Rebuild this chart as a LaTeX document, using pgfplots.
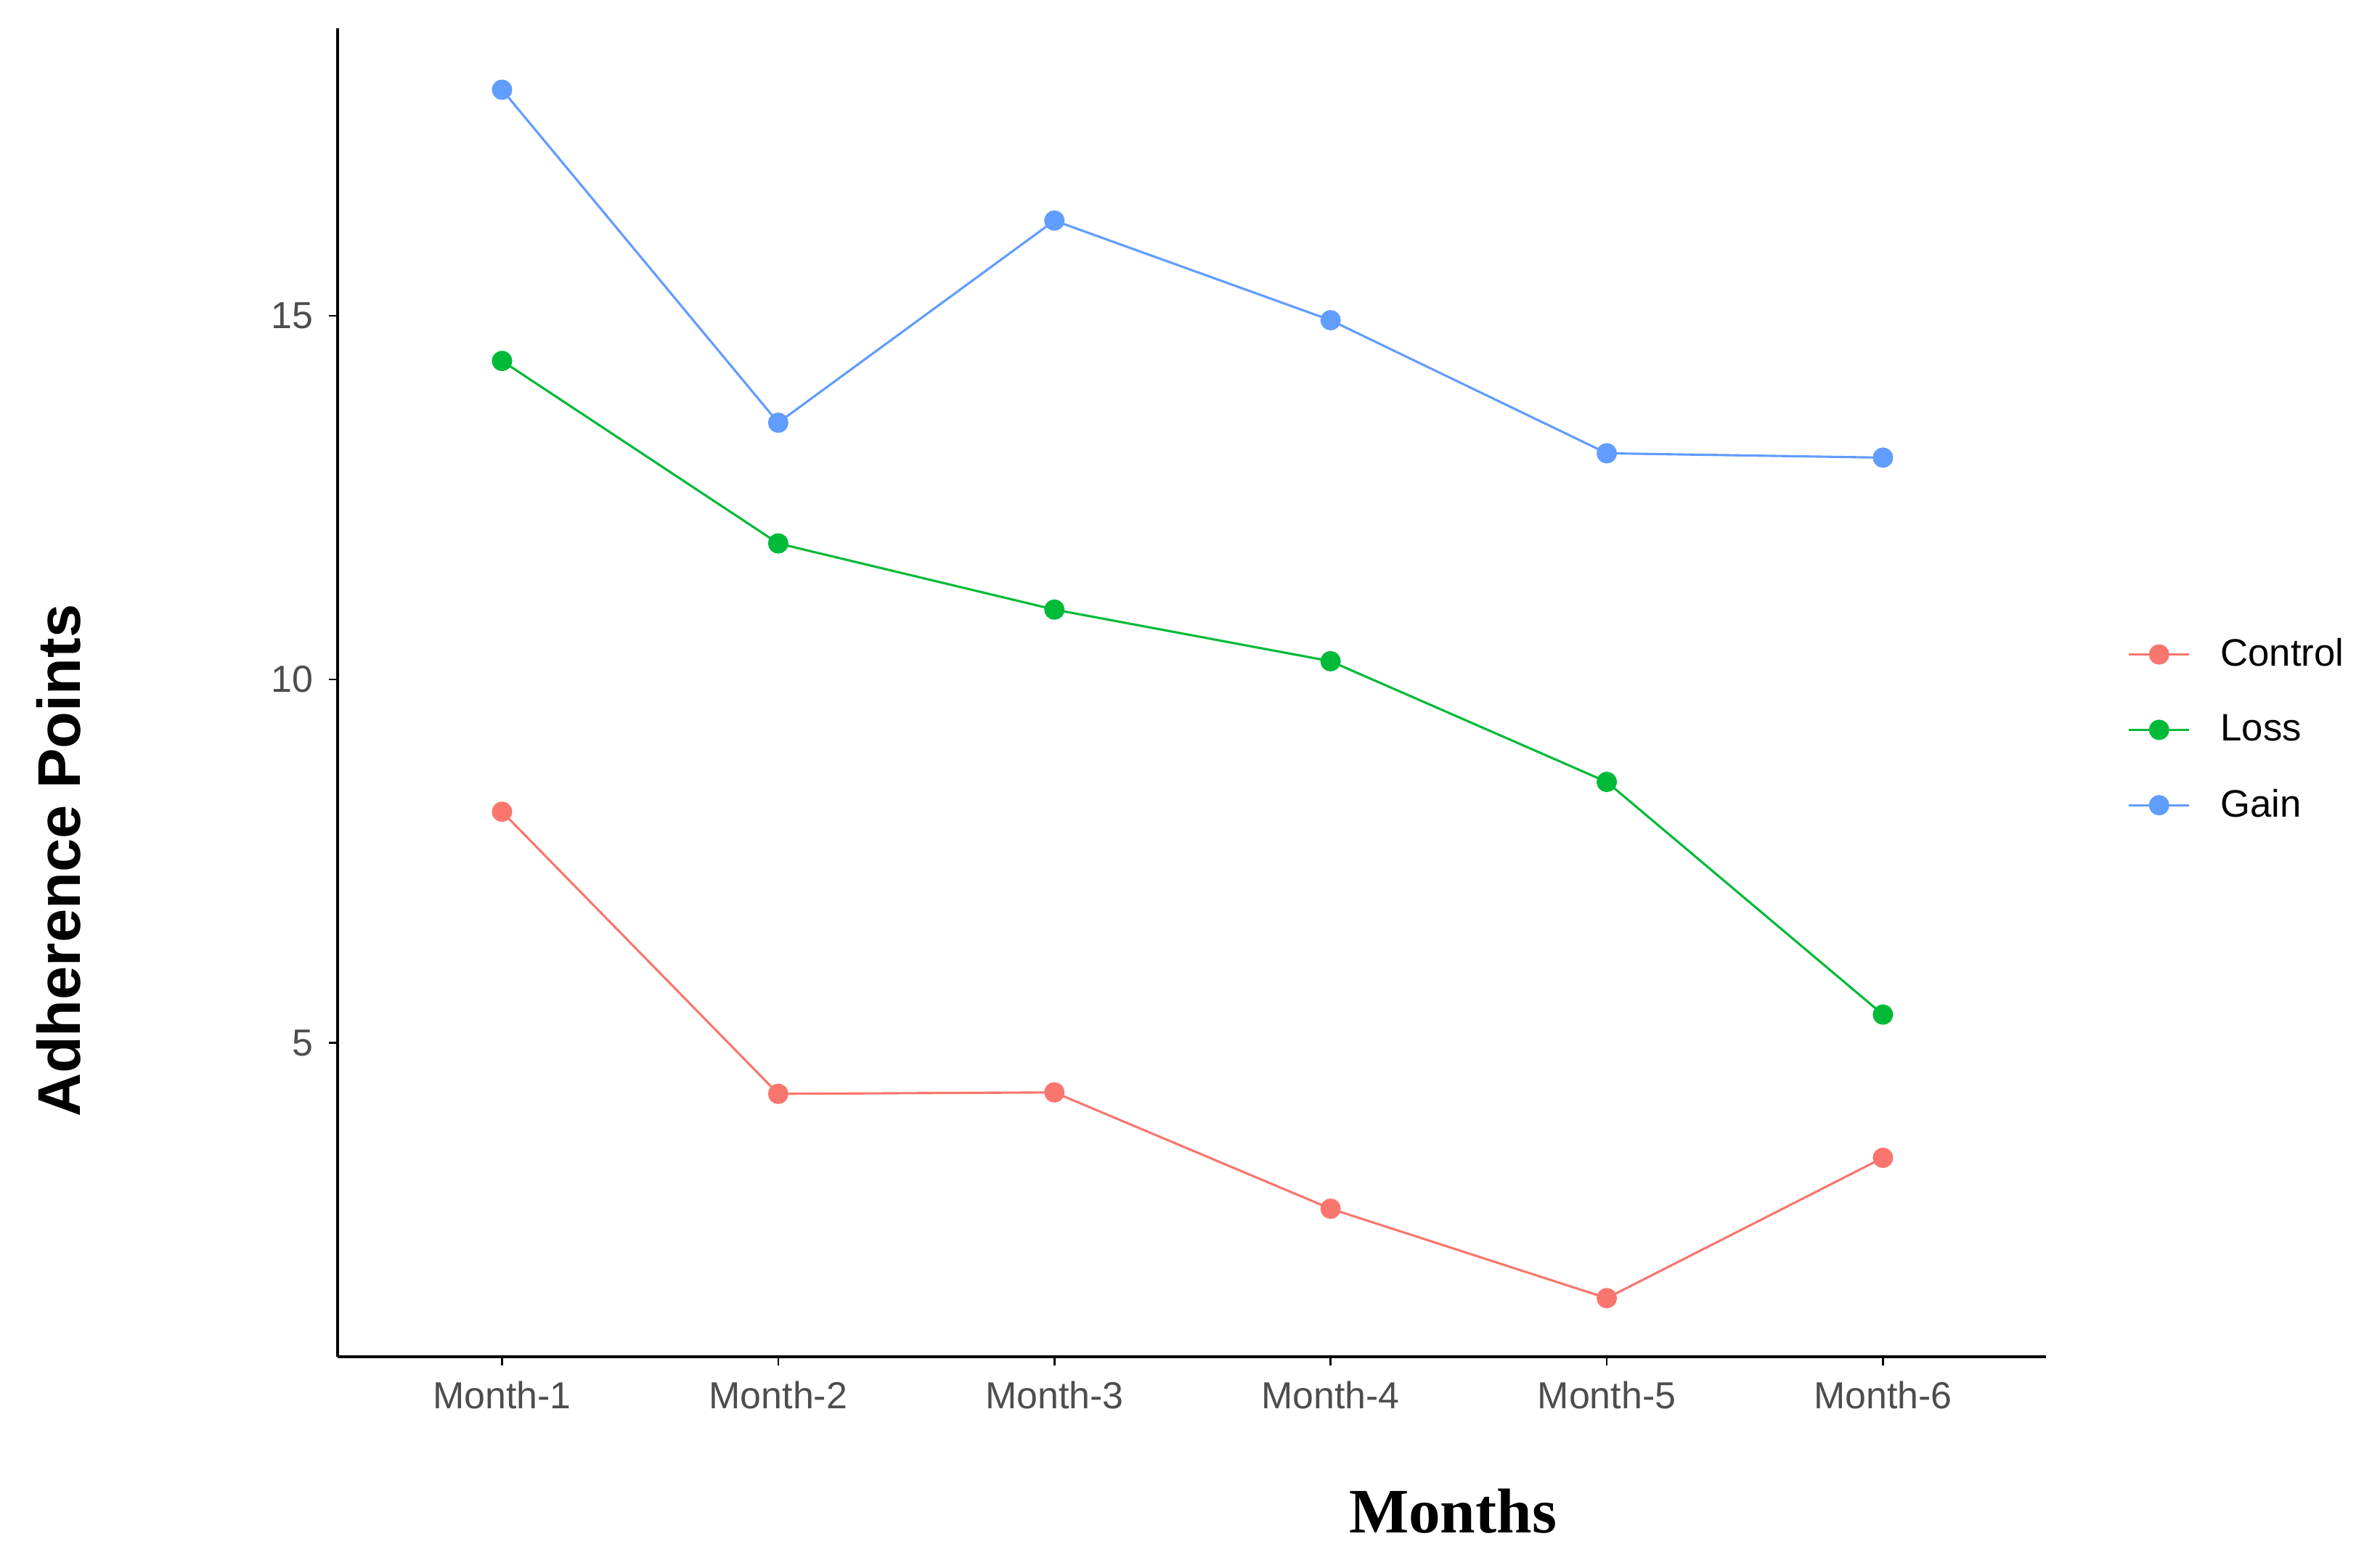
\documentclass[border=0pt]{standalone}
\usepackage{pgfplots}
\pgfplotsset{compat=1.18}
\usepackage{fontspec}
\setmainfont{Liberation Sans}
\newfontfamily\serifbold{Liberation Serif}
\definecolor{cctrl}{HTML}{F8766D}
\definecolor{closs}{HTML}{00BA38}
\definecolor{cgain}{HTML}{619CFF}
\definecolor{tickgrey}{HTML}{4D4D4D}
\begin{document}
\begin{tikzpicture}
\useasboundingbox (-112pt,-70pt) rectangle (672pt,450pt);
\begin{axis}[
  scale only axis,
  width=566.5pt, height=440.5pt,
  xmin=0.405, xmax=6.59,
  ymin=0.685, ymax=18.95,
  axis x line*=bottom, axis y line*=left,
  axis line style={line width=1pt, black},
  xtick={1,2,3,4,5,6},
  xticklabels={Month-1,Month-2,Month-3,Month-4,Month-5,Month-6},
  ytick={5,10,15},
  tick align=outside,
  major tick length=3pt,
  tick style={line width=0.6pt, black},
  /pgf/number format/assume math mode=true,
  ticklabel style={font=\fontsize{12.5}{14}\selectfont, text=tickgrey, inner sep=0pt},
  xticklabel style={yshift=-5pt},
  yticklabel style={xshift=-5pt},
  clip=false,
  legend cell align=left,
  legend style={draw=none, fill=none, at={(axis description cs:1.0476,0.472)}, anchor=west,
    font=\fontsize{12.7}{15}\selectfont, inner sep=0pt, column sep=10pt, row sep=0pt,
    nodes={inner sep=0pt, minimum height=25pt}},
  legend image code/.code={
    \draw[#1, mark=none] (0pt,0pt) -- (20pt,0pt);
    \draw[#1, only marks] plot coordinates {(10pt,0pt)};
  },
  every axis plot/.append style={line width=0.75pt, mark=*, mark size=3pt},
]
\addplot[cctrl, mark options={fill=cctrl, draw=cctrl}] coordinates {(1,8.18) (2,4.30) (3,4.32) (4,2.72) (5,1.49) (6,3.42)};
\addlegendentry{Control}
\addplot[closs, mark options={fill=closs, draw=closs}] coordinates {(1,14.38) (2,11.87) (3,10.96) (4,10.25) (5,8.59) (6,5.39)};
\addlegendentry{Loss}
\addplot[cgain, mark options={fill=cgain, draw=cgain}] coordinates {(1,18.11) (2,13.53) (3,16.31) (4,14.94) (5,13.11) (6,13.05)};
\addlegendentry{Gain}
\node[rotate=90, anchor=base, font=\bfseries\fontsize{20}{24}\selectfont] at ([xshift=-85.5pt]axis description cs:0,0.3734) {Adherence Points};
\node[anchor=base, font=\serifbold\bfseries\fontsize{21}{25}\selectfont] at ([yshift=-58.5pt]axis description cs:0.6528,0) {Months};
\end{axis}
\end{tikzpicture}
\end{document}
